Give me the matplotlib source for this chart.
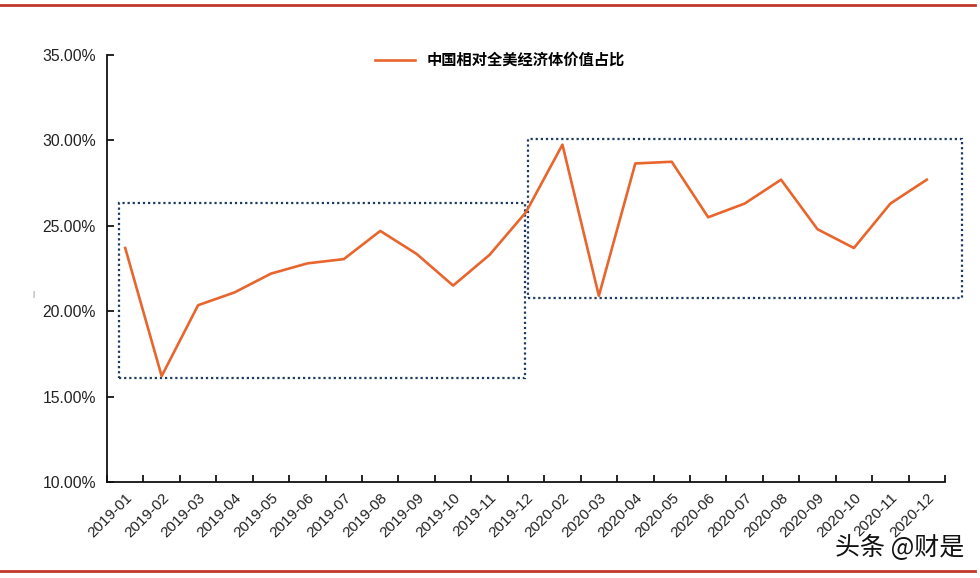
import matplotlib.pyplot as plt
from matplotlib.patches import Rectangle
from matplotlib.lines import Line2D
from matplotlib.ticker import FixedLocator, FuncFormatter

plt.rcParams['font.family'] = ['Liberation Sans', 'Noto Sans CJK SC', 'DejaVu Sans']

# monthly share (%), 2020-01 missing in the source
months = ['2019-01', '2019-02', '2019-03', '2019-04', '2019-05', '2019-06',
          '2019-07', '2019-08', '2019-09', '2019-10', '2019-11', '2019-12',
          '2020-02', '2020-03', '2020-04', '2020-05', '2020-06', '2020-07',
          '2020-08', '2020-09', '2020-10', '2020-11', '2020-12']
share = [23.7, 16.2, 20.35, 21.1, 22.2, 22.8, 23.05, 24.7, 23.35, 21.5, 23.3, 25.8,
         29.75, 20.9, 28.65, 28.75, 25.5, 26.3, 27.7, 24.8, 23.7, 26.3, 27.7]
series_name = '中国相对全美经济体价值占比'

# highlighted periods: (x0, x1, y0, y1) in category / percent units
boxes = [(-0.17, 10.96, 16.1, 26.35), (11.05, 22.97, 20.8, 30.1)]

orange = '#E8662D'
navy = '#1F3A60'
red = '#C0392B'

fig = plt.figure(figsize=(9.8, 5.78), dpi=100)
ax = fig.add_axes([107 / 980, 1 - 482 / 578, (945 - 107) / 980, (482 - 55) / 578])

x = list(range(len(months)))
ax.plot(x, share, color=orange, lw=1.9, label=series_name, zorder=3)

for x0, x1, y0, y1 in boxes:
    ax.add_patch(Rectangle((x0, y0), x1 - x0, y1 - y0, fill=False, ec=navy,
                           ls=(0, (1, 1.3)), lw=1.6, clip_on=False, zorder=2))

ax.set_xlim(-0.5, len(months) - 0.5)
ax.set_ylim(10, 35)
ax.set_yticks([10, 15, 20, 25, 30, 35])
ax.yaxis.set_major_formatter(FuncFormatter(lambda v, p: f'{v:.2f}%'))

# ticks sit between categories, labels at the centres
ax.xaxis.set_major_locator(FixedLocator([i - 0.5 for i in range(len(months) + 1)]))
ax.xaxis.set_major_formatter(FuncFormatter(lambda v, p: ''))
ax.set_xticks(x, minor=True)
ax.set_xticklabels(months, minor=True, rotation=45, ha='right', rotation_mode='anchor')
ax.tick_params(axis='x', which='major', direction='in', length=5, width=1.2)
ax.tick_params(axis='x', which='minor', length=0, pad=6, labelsize=11, labelcolor='#222222')
ax.tick_params(axis='y', direction='in', length=5, width=1.2, labelsize=11.3,
               labelcolor='#222222', pad=8)

for s in ['top', 'right']:
    ax.spines[s].set_visible(False)
for s in ['left', 'bottom']:
    ax.spines[s].set_linewidth(1.3)
    ax.spines[s].set_color('#111111')

ax.legend(loc='center', bbox_to_anchor=(500 / 980, 1 - 60 / 578),
          bbox_transform=fig.transFigure, frameon=False, handlelength=2.6,
          prop={'family': ['Noto Sans CJK SC'], 'size': 11, 'weight': 'bold'})

# page decoration
fig.add_artist(Line2D([0, 0.995], [1 - 5 / 578] * 2, color=red, lw=2))
fig.add_artist(Line2D([0, 0.995], [1 - 571 / 578] * 2, color=red, lw=2))
fig.text(33 / 980, 1 - 295 / 578, '|', fontsize=6, color='#777777', ha='center', va='center')
fig.text(835 / 980, 1 - 548 / 578, '头条 @财是', fontsize=18, color='#111111',
         family=['Noto Sans CJK SC'], ha='left', va='center')

fig.savefig('out.png', dpi=100)
